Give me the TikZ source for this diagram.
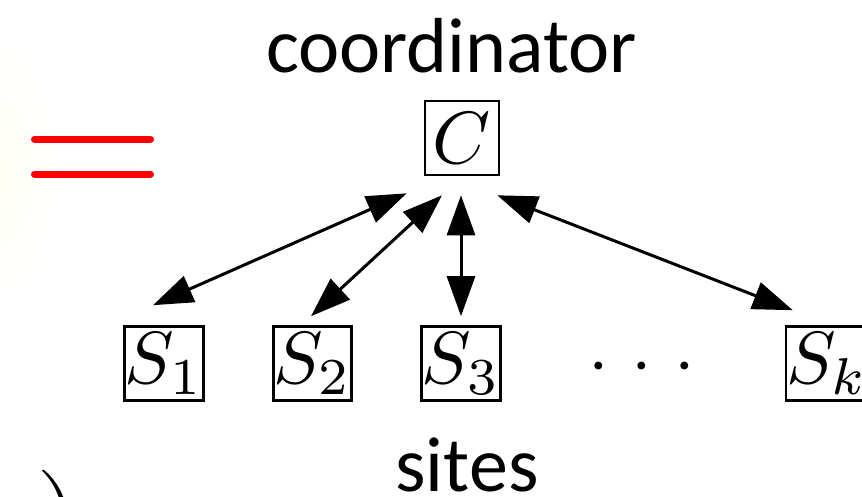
\documentclass[tikz,border=0pt]{standalone}
\usepackage{fontspec}
\newfontfamily\labelfont{Carlito}
\usetikzlibrary{arrows.meta,calc}
% math set at 10pt and enlarged, so the fixed-size CM math fonts stay sharp
\newcommand{\bigmath}[1]{\scalebox{7.4}{$#1$}}

\begin{document}
\begin{tikzpicture}[x=1pt,y=-1pt,
  box/.style={draw, line width=2.6pt, minimum size=74pt, inner sep=0pt},
  link/.style={line width=3pt,
    {Triangle[length=40pt,width=28pt]}-{Triangle[length=40pt,width=28pt]}},
  caption/.style={font=\labelfont\fontsize{78}{84}\selectfont, inner sep=0pt, anchor=base},
  equals/.style={red, line width=7pt, line cap=round}]
  \useasboundingbox (0,0) rectangle (862,496);

  % soft highlight at the left edge
  \shade[inner color=yellow!4, outer color=white, draw=none]
    (0,170) ellipse [x radius=60pt, y radius=130pt];

  % red equals sign
  \coordinate (e1a) at (34.5,139);
  \coordinate (e1b) at (150.5,139);
  \coordinate (e2a) at (34.5,174);
  \coordinate (e2b) at (150.5,174);
  \draw[equals] (e1a) -- (e1b);
  \draw[equals] (e2a) -- (e2b);

  % coordinator and sites
  \node[box] (C)  at (462,138)   {\bigmath{C}};
  \node[box] (S1) at (164,363.5) {\bigmath{S_1}};
  \node[box] (S2) at (312.5,363.5) {\bigmath{S_2}};
  \node[box] (S3) at (461,363.5) {\bigmath{S_3}};
  \node[box] (Sk) at (827,363.5) {\bigmath{S_k}};
  \node[inner sep=0pt] (dots) at (642,368)
    {\bigmath{\mathord{\cdot}\mkern5.5mu\mathord{\cdot}\mkern5.5mu\mathord{\cdot}}};

  % captions
  \node[caption] (top) at (451.5,72) {coordinator};
  \node[caption] (bottom) at (467,491) {sites};

  % two-way links
  \draw[link] ($(C.south west)+(-17,17)$) -- ($(S1.north)+(-11,-20)$);
  \draw[link] ($(C.south)+(-20,19)$) -- ($(S2.north)+(-1.5,-9)$);
  \draw[link] ($(C.south)+(-1,19)$) -- ($(S3.north)+(0,-9)$);
  \draw[link] ($(C.south east)+(-3,19)$) -- ($(Sk.north west)+(8,-15)$);

  % closing parenthesis below
  \node[inner sep=0pt, anchor=base west, font=\fontsize{130}{140}\selectfont] (paren) at (36,567) {)};
\end{tikzpicture}
\end{document}
